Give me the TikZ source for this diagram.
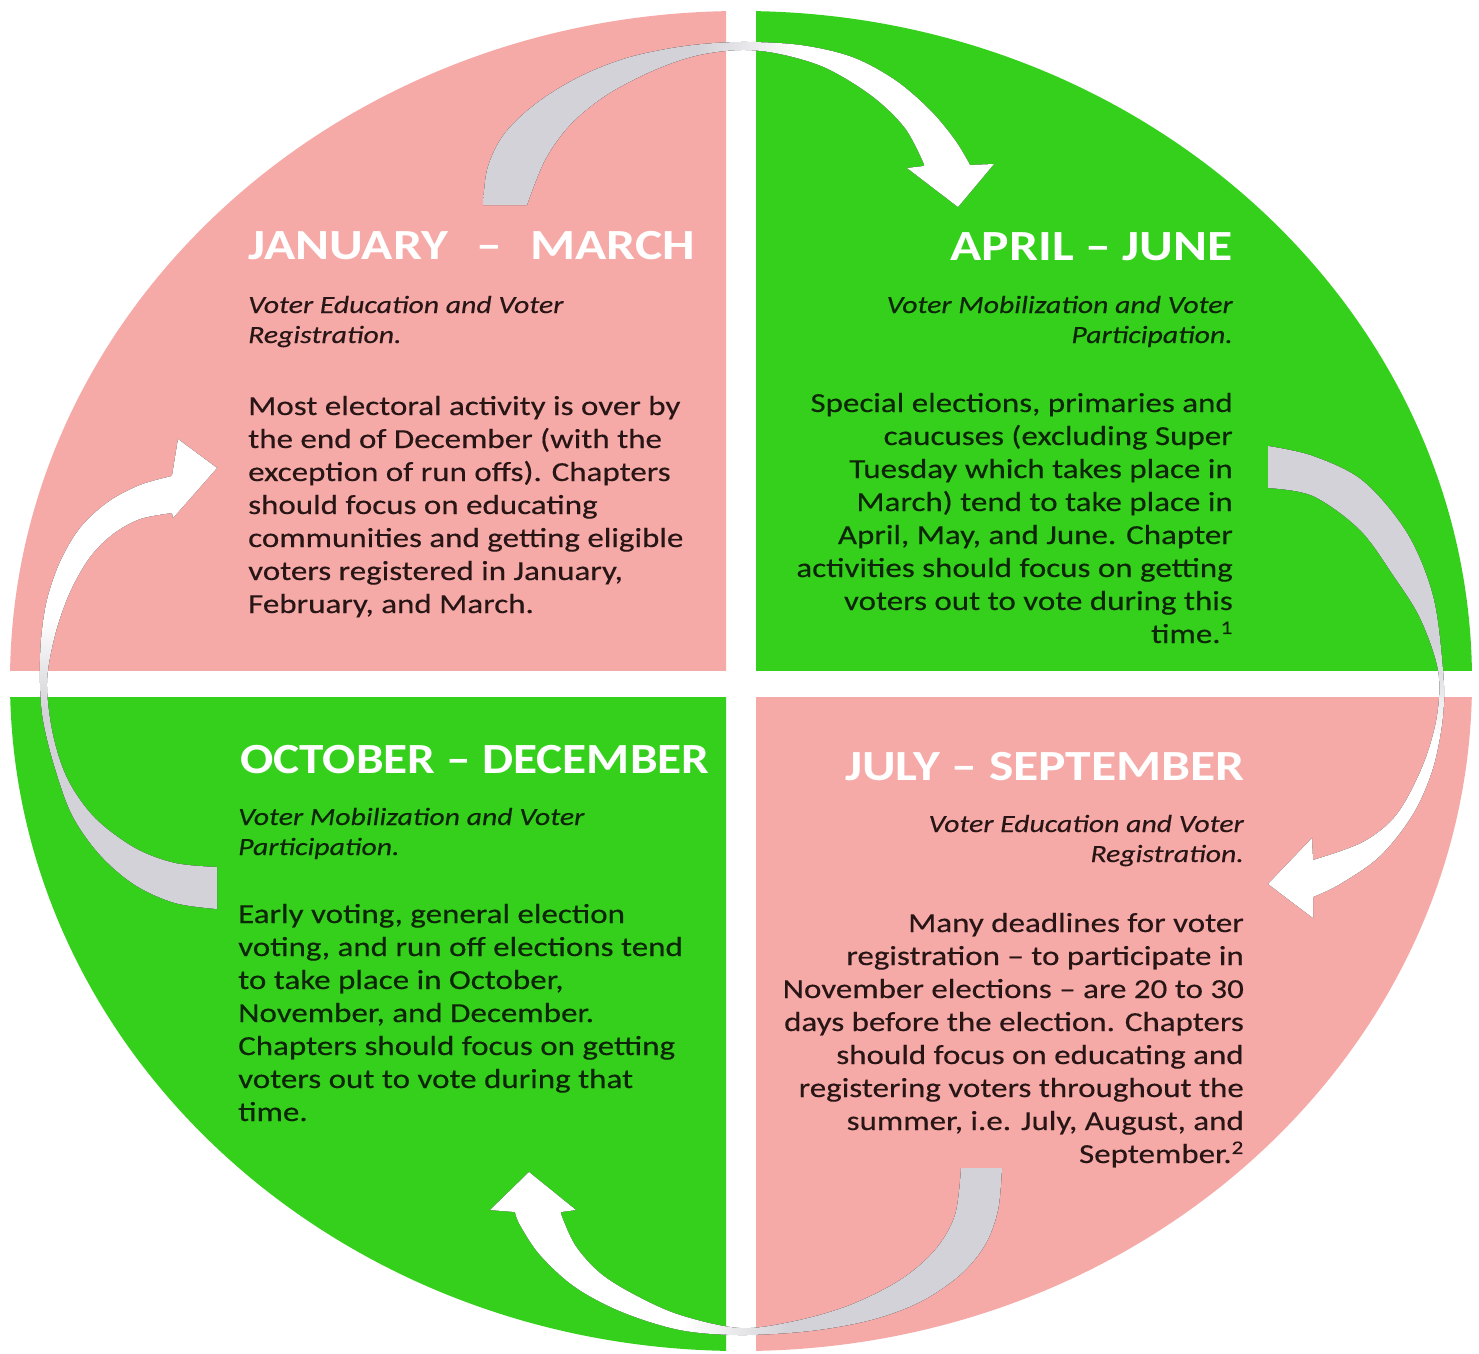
\documentclass[tikz,border=0pt]{standalone}
\usepackage{fontspec}
\setmainfont{Carlito}[FakeStretch=1.2, UprightFeatures={FakeBold=0.35}, ItalicFeatures={FakeBold=0.3}]
\definecolor{qpink}{RGB}{246,170,167}
\definecolor{qgreen}{RGB}{52,208,28}
\definecolor{txtpink}{RGB}{40,22,22}
\definecolor{txtgreen}{RGB}{14,38,8}
\pgfdeclarehorizontalshading{arrowfade}{100bp}{rgb(0bp)=(0.824,0.824,0.847); rgb(46bp)=(0.824,0.824,0.847); rgb(56bp)=(1,1,1); rgb(100bp)=(1,1,1)}
\tikzset{
  heading/.style={inner sep=0pt, text=white, font=\fontsize{43}{50}\selectfont\bfseries},
  subtitle/.style={inner sep=0pt, font=\fontsize{24.8}{30}\selectfont\itshape},
  bodytext/.style={inner sep=0pt, font=\fontsize{27.5}{33}\selectfont},
  bendarrow/.style={shading=arrowfade, draw=none}
}
\begin{document}
\begin{tikzpicture}[x=1pt, y=-1pt]
\useasboundingbox (0,0) rectangle (1479,1353);
\fill[white] (0,0) rectangle (1479,1353);
% quadrants
\begin{scope}
  \clip (0,0) rectangle (726,670);
  \fill[qpink] (741,681) ellipse [x radius=731pt, y radius=670pt];
\end{scope}
\begin{scope}
  \clip (756,0) rectangle (1479,670);
  \fill[qgreen] (741,681) ellipse [x radius=731pt, y radius=670pt];
\end{scope}
\begin{scope}
  \clip (0,697) rectangle (726,1353);
  \fill[qgreen] (741,681) ellipse [x radius=731pt, y radius=670pt];
\end{scope}
\begin{scope}
  \clip (756,697) rectangle (1479,1353);
  \fill[qpink] (741,681) ellipse [x radius=731pt, y radius=670pt];
\end{scope}

% top arrow (Jan-Mar -> Apr-Jun)
\fill[bendarrow, shading angle=0]
  plot[smooth, tension=0.55] coordinates {(483,205) (487,170) (500,140) (520,117) (548,95) (585,74) (630,57) (685,46) (740,42) (800,45) (852,57) (895,80) (930,110) (955,140) (970,165)}
  -- (994,164) -- (958,207) -- (907,168) -- (924,166)
  -- plot[smooth, tension=0.55] coordinates {(924,164) (905,128) (872,96) (826,68) (780,54) (740,50) (695,56) (650,72) (605,96) (570,125) (545,160) (527,205)}
  -- cycle;

% right arrow (Apr-Jun -> Jul-Sep)
\fill[bendarrow, shading angle=-90]
  plot[smooth, tension=0.55] coordinates {(1268,446) (1313,456) (1363,481) (1407,533) (1433,596) (1443,670) (1443,716) (1433,768) (1413,814) (1380,856) (1340,884) (1313,897)}
  -- (1313,918) -- (1268,884) -- (1312,838) -- (1313,860)
  -- plot[smooth, tension=0.55] coordinates {(1313,860) (1363,842) (1397,814) (1423,765) (1437,716) (1438,670) (1420,618) (1393,575) (1360,530) (1313,496) (1268,488)}
  -- cycle;

% bottom arrow (Jul-Sep -> Oct-Dec)
\fill[bendarrow, shading angle=180]
  plot[smooth, tension=0.55] coordinates {(1002,1168) (998,1210) (985,1245) (960,1275) (920,1302) (871,1320) (810,1331) (740,1335) (680,1330) (622,1312) (575,1287) (540,1255) (520,1225) (515,1212)}
  -- (490,1210) -- (529,1172) -- (576,1210) -- (561,1212)
  -- plot[smooth, tension=0.55] coordinates {(561,1214) (575,1245) (600,1273) (635,1295) (680,1315) (740,1328) (795,1321) (850,1305) (900,1280) (935,1250) (955,1215) (961,1168)}
  -- cycle;

% left arrow (Oct-Dec -> Jan-Mar)
\fill[bendarrow, shading angle=90]
  plot[smooth, tension=0.55] coordinates {(217,909) (175,903) (135,885) (100,855) (72,815) (54,765) (43,720) (40,683) (41,640) (47,600) (60,562) (80,528) (108,502) (140,485) (172,476)}
  -- (178,439) -- (217,468) -- (173,518) -- (172,513)
  -- plot[smooth, tension=0.55] coordinates {(172,513) (140,519) (113,534) (90,557) (70,592) (55,635) (47,683) (53,735) (68,780) (95,818) (135,848) (175,863) (217,867)}
  -- cycle;

% ---- January - March
\node[heading, anchor=base west] (tlhead) at (248,259) {\makebox[447pt][l]{JANUARY\hfill–\hfill MARCH}};
\node[subtitle, anchor=base west, text=txtpink] (tlsub) at (248,313) {\parbox[t]{460pt}{\raggedright Voter Education and Voter\\Registration.}};
\node[bodytext, anchor=base west, text=txtpink] (tlbody) at (248,415) {\parbox[t]{470pt}{\raggedright
Most electoral activity is over by\\
the end of December (with the\\
exception of run offs). Chapters\\
should focus on educating\\
communities and getting eligible\\
voters registered in January,\\
February, and March.}};

% ---- April - June
\node[heading, anchor=base east] (trhead) at (1233,260) {APRIL – JUNE};
\node[subtitle, anchor=base east, text=txtgreen] (trsub) at (1233,313) {\parbox[t]{460pt}{\raggedleft Voter Mobilization and Voter\\Participation.}};
\node[bodytext, anchor=base east, text=txtgreen] (trbody) at (1233,412) {\parbox[t]{480pt}{\raggedleft
Special elections, primaries and\\
caucuses (excluding Super\\
Tuesday which takes place in\\
March) tend to take place in\\
April, May, and June. Chapter\\
activities should focus on getting\\
voters out to vote during this\\
time.\textsuperscript{1}}};

% ---- October - December
\node[heading, anchor=base west] (blhead) at (240,773) {\scalebox{0.955}[1]{OCTOBER – DECEMBER}};
\node[subtitle, anchor=base west, text=txtgreen] (blsub) at (238,825) {\parbox[t]{460pt}{\raggedright Voter Mobilization and Voter\\Participation.}};
\node[bodytext, anchor=base west, text=txtgreen] (blbody) at (238,923) {\parbox[t]{480pt}{\raggedright
Early voting, general election\\
voting, and run off elections tend\\
to take place in October,\\
November, and December.\\
Chapters should focus on getting\\
voters out to vote during that\\
time.}};

% ---- July - September
\node[heading, anchor=base east] (brhead) at (1245,780) {JULY – SEPTEMBER};
\node[subtitle, anchor=base east, text=txtpink] (brsub) at (1244,832) {\parbox[t]{460pt}{\raggedleft Voter Education and Voter\\Registration.}};
\node[bodytext, anchor=base east, text=txtpink] (brbody) at (1244,932) {\parbox[t]{500pt}{\raggedleft
Many deadlines for voter\\
registration – to participate in\\
November elections – are 20 to 30\\
days before the election. Chapters\\
should focus on educating and\\
registering voters throughout the\\
summer, i.e. July, August, and\\
September.\textsuperscript{2}}};
\end{tikzpicture}
\end{document}
